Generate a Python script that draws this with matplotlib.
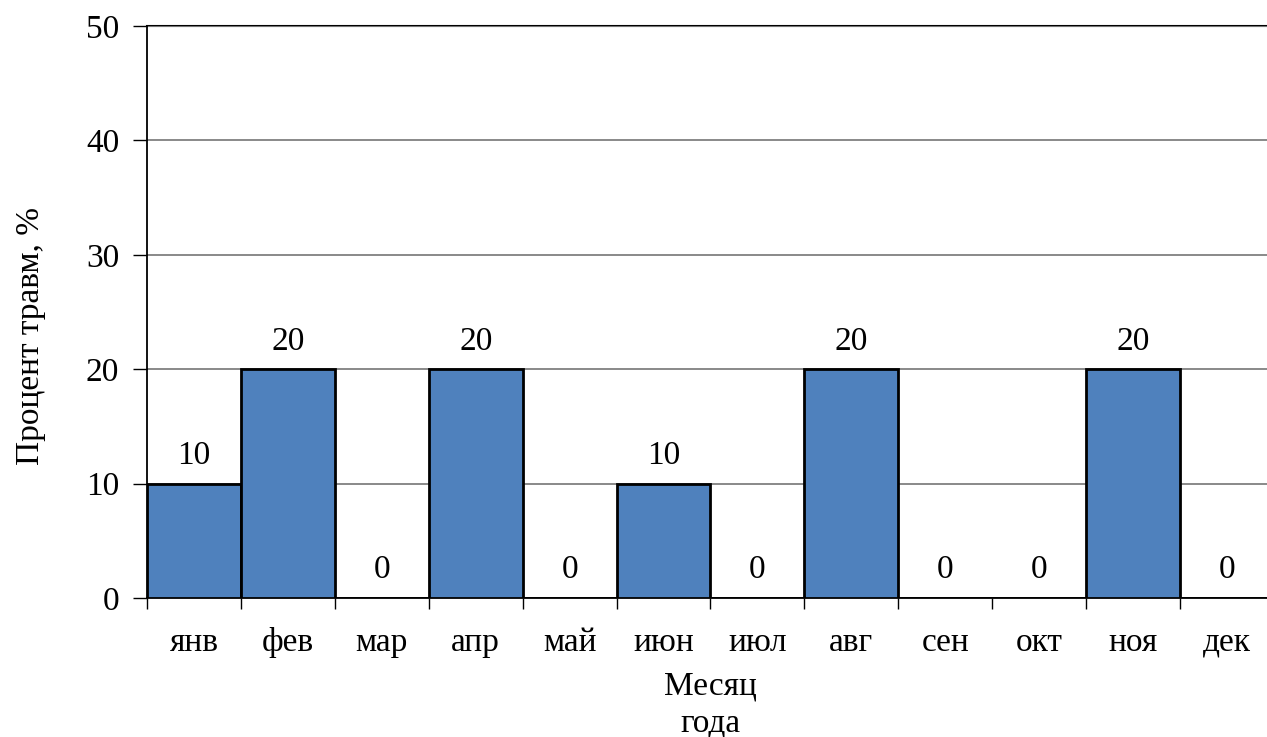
import matplotlib
matplotlib.use('Agg')
import matplotlib.pyplot as plt
import numpy as np

months = ['янв', 'фев', 'мар', 'апр', 'май', 'июн', 'июл', 'авг', 'сен', 'окт', 'ноя', 'дек']
injury_pct = [10, 20, 0, 20, 0, 10, 0, 20, 0, 0, 20, 0]
y_ticks = [0, 10, 20, 30, 40, 50]

plt.rcParams['font.family'] = ['Liberation Serif', 'DejaVu Serif']

fig = plt.figure(figsize=(12.67, 7.37), dpi=100)
ax = fig.add_axes([147 / 1267, 139 / 737, 1127 / 1267, 572 / 737])

x = np.arange(len(months))
bars = ax.bar(x, injury_pct, width=1.0, color='#4F81BD', edgecolor='black',
              linewidth=2, zorder=3)

for xi, v in zip(x, injury_pct):
    ax.annotate(str(v), (xi, v), xytext=(0, 9), textcoords='offset points',
                ha='center', va='bottom', fontsize=24)

ax.set_xlim(-0.5, len(months) - 0.5)
ax.set_ylim(0, 50)
ax.set_yticks(y_ticks)
ax.set_yticklabels([str(t) for t in y_ticks], fontsize=24)
ax.yaxis.grid(True, color='#808080', linewidth=1.3, zorder=0)
ax.axhline(50, color='black', linewidth=1.5, zorder=1, clip_on=False)

# category boundaries get the tick marks, labels sit in the middle
ax.set_xticks(np.arange(len(months) + 1) - 0.5)
ax.set_xticklabels([])
ax.set_xticks(x, minor=True)
ax.set_xticklabels(months, minor=True, fontsize=24)
ax.tick_params(axis='x', which='major', length=8, width=1, direction='out')
ax.tick_params(axis='x', which='minor', length=0, pad=21)
ax.tick_params(axis='y', length=10, width=1, direction='out', pad=10)

for side in ['top', 'right']:
    ax.spines[side].set_visible(False)
ax.spines['left'].set_linewidth(1.3)
ax.spines['bottom'].set_linewidth(1.3)

ax.set_xlabel('Месяц\nгода', fontsize=24, linespacing=1.3, labelpad=9)
ax.set_ylabel('Процент травм, %', fontsize=24)
ax.yaxis.set_label_coords(-0.09, 0.458)

fig.savefig('out.png', dpi=100)
